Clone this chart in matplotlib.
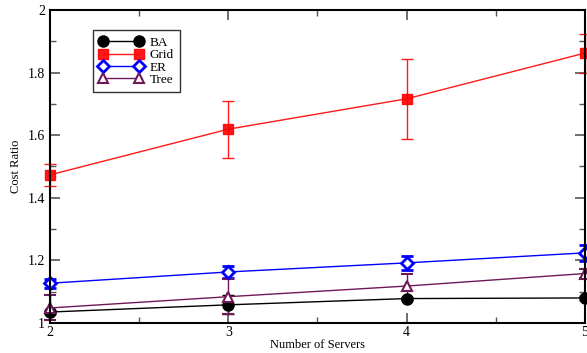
import matplotlib
matplotlib.use('Agg')
import matplotlib.pyplot as plt
from matplotlib.ticker import MultipleLocator

servers = [2, 3, 4, 5]
ba = [1.035, 1.058, 1.078, 1.080]
ba_err = [0.005, 0.03, 0.005, 0.005]
grid = [1.473, 1.619, 1.716, 1.862]
grid_err = [0.035, 0.091, 0.127, 0.062]
er = [1.127, 1.163, 1.192, 1.224]
er_err = [0.015, 0.02, 0.022, 0.025]
tree = [1.048, 1.084, 1.118, 1.158]
tree_err = [0.04, 0.056, 0.04, 0.015]

plt.rcParams['font.family'] = 'Liberation Serif'

fig = plt.figure(figsize=(5.87, 3.53), dpi=100)
ax = fig.add_axes([0.085, 0.085, 0.9115, 0.887])

c1 = ax.errorbar(servers, ba, yerr=ba_err, color='black', marker='o', markersize=8,
                 capsize=4, lw=1, clip_on=False)
c2 = ax.errorbar(servers, grid, yerr=grid_err, color='red', marker='s', markersize=7,
                 capsize=4, lw=1, clip_on=False, alpha=0.9)
c3 = ax.errorbar(servers, er, yerr=er_err, color='blue', marker='D', markersize=6,
                 markerfacecolor='white', markeredgewidth=2, capsize=4, lw=1, clip_on=False)
c4 = ax.errorbar(servers, tree, yerr=tree_err, color='#701858', marker='^', markersize=7,
                 markerfacecolor='white', markeredgewidth=1.5, capsize=4, lw=1, clip_on=False)

ax.set_xlim(2, 5)
ax.set_ylim(1, 2)
ax.xaxis.set_major_locator(MultipleLocator(1))
ax.xaxis.set_minor_locator(MultipleLocator(0.5))
ax.yaxis.set_minor_locator(MultipleLocator(0.1))
ax.set_yticks([1, 1.2, 1.4, 1.6, 1.8, 2])
ax.set_yticklabels(['1', '1.2', '1.4', '1.6', '1.8', '2'])
ax.tick_params(which='both', direction='in', top=True, right=True, labelsize=10, color='#555555')
ax.tick_params(axis='x', pad=2)
ax.tick_params(which='major', length=7, width=1.2)
ax.tick_params(which='minor', length=4, width=1)
for s in ax.spines.values():
    s.set_linewidth(1.5)

ax.set_xlabel('Number of Servers', fontsize=9, labelpad=0)
ax.set_ylabel('Cost Ratio', fontsize=9)

# legend without the error bar glyphs
handles = [c[0] for c in (c1, c2, c3, c4)]
ax.legend(handles, ['BA', 'Grid', 'ER', 'Tree'], loc='upper left', bbox_to_anchor=(0.08, 0.935),
          fontsize=9.5, frameon=True, fancybox=False, edgecolor='black', numpoints=2,
          handlelength=3.3, borderpad=0.5, labelspacing=0.0, handletextpad=0.5,
          borderaxespad=0)

plt.savefig('out.png', dpi=100)
